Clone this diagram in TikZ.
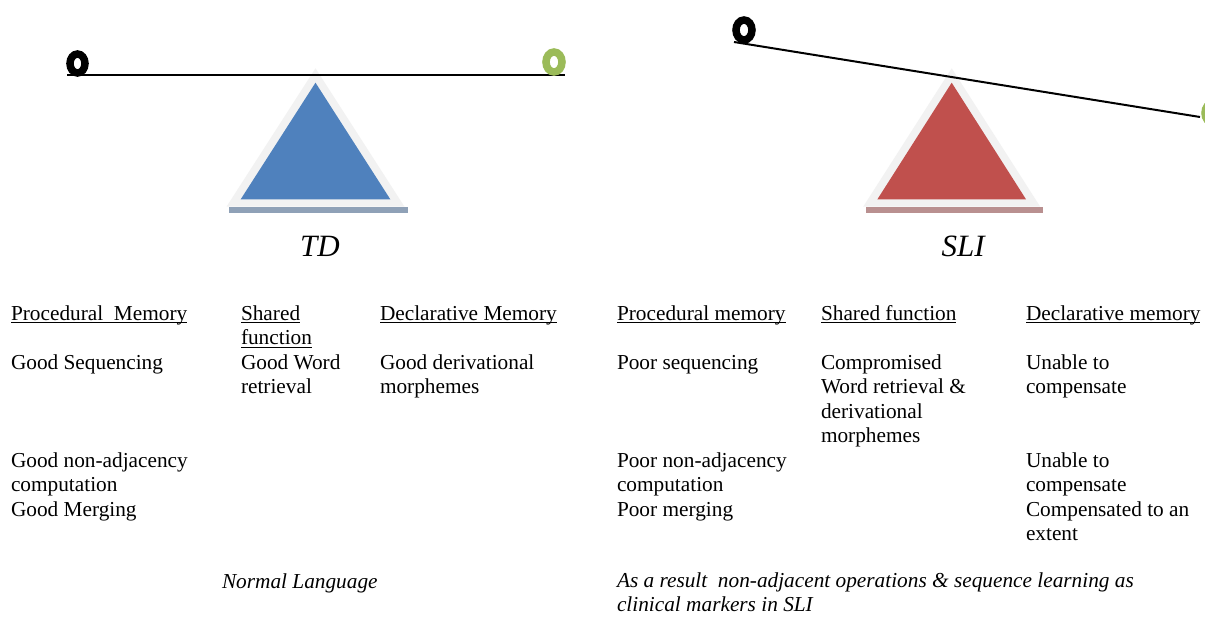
\documentclass[tikz,border=0pt]{standalone}
\usepackage{fontspec}
\setmainfont{Liberation Serif}
\usetikzlibrary{shapes.geometric}
\definecolor{tdblue}{HTML}{4F81BD}
\definecolor{slired}{HTML}{C0504D}
\definecolor{rimgray}{HTML}{F2F2F2}
\definecolor{tdshadow}{HTML}{8FA1B7}
\definecolor{slishadow}{HTML}{B99090}
\definecolor{ringgreen}{HTML}{9BBB59}
\newcommand\ulin[1]{\setbox0\hbox{#1}\rlap{\rule[-3.4pt]{\wd0}{1.1pt}}\box0}
\begin{document}
\begin{tikzpicture}[x=1pt,y=-1pt,
  txt/.style={anchor=base west, inner sep=0pt, outer sep=0pt, align=left,
    font=\fontsize{21.3}{24.5}\selectfont},
  itxt/.style={txt, font=\fontsize{21.3}{24.5}\selectfont\itshape},
  ttl/.style={anchor=base west, inner sep=0pt, font=\fontsize{31}{36}\selectfont\itshape},
  beam/.style={line width=2pt, black},
  ring/.style={ellipse, draw, line width=7.5pt, inner sep=0pt},
  rim/.style={fill=rimgray},
  ]
\clip (0,0) rectangle (1205,616);
\fill[white] (0,0) rectangle (1205,616);

% ---------- TD seesaw ----------
\fill[rim] (315.5,68.3) -- (404.5,206.7) -- (226.5,206.7) -- cycle;
\fill[tdshadow] (229,206.7) rectangle (407.5,212.7);
\fill[tdblue] (315.5,82.7) -- (390.3,199.3) -- (240.7,199.3) -- cycle;
\coordinate (tdL) at (67,74.5);
\coordinate (tdR) at (565,74.5);
\draw[beam] (tdL) -- (tdR);
\node[ring, black, minimum width=15pt, minimum height=19pt] (tdblack) at (77.5,63.5) {};
\node[ring, ringgreen, minimum width=16pt, minimum height=20pt] (tdgreen) at (554,62) {};

% ---------- SLI seesaw ----------
\fill[rim] (951.7,68.3) -- (1040.2,206.7) -- (863.2,206.7) -- cycle;
\fill[slishadow] (865.7,206.7) rectangle (1043.3,212.7);
\fill[slired] (951.7,82.7) -- (1026,199.3) -- (877.4,199.3) -- cycle;
\coordinate (sliL) at (734,42);
\coordinate (sliR) at (1200,117);
\draw[beam] (sliL) -- (sliR);
\node[ring, black, minimum width=16pt, minimum height=20pt] (sliblack) at (744,30) {};
\node[ring, ringgreen, minimum width=16pt, minimum height=20pt] (sligreen) at (1213,113) {};

% ---------- titles ----------
\node[ttl] (td) at (300,256.5) {TD};
\node[ttl] (sli) at (941.5,256.5) {SLI};

% ---------- TD table (anchor = baseline of last line) ----------
\node[txt] (tdproc) at (11,320) {\ulin{Procedural\ \ Memory}};
\node[txt] (tdshared) at (241,344.5) {\ulin{Shared}\\\ulin{function}};
\node[txt] (tddecl) at (380,320) {\ulin{Declarative Memory}};
\node[txt] (tdseq) at (11,369) {Good Sequencing};
\node[txt] (tdword) at (241,393.5) {Good Word\\retrieval};
\node[txt] (tdderiv) at (380,393.5) {Good derivational\\morphemes};
\node[txt] (tdnonadj) at (11,491.5) {Good non-adjacency\\computation};
\node[txt] (tdmerge) at (11,516) {Good Merging};
\node[itxt] (tdnote) at (222,588) {Normal Language};

% ---------- SLI table ----------
\node[txt] (sliproc) at (617,320) {\ulin{Procedural memory}};
\node[txt] (slishared) at (821,320) {\ulin{Shared function}};
\node[txt] (slidecl) at (1026,320) {\ulin{Declarative memory}};
\node[txt] (sliseq) at (617,369) {Poor sequencing};
\node[txt] (sliword) at (821,442.5) {Compromised\\Word retrieval \&\\derivational\\morphemes};
\node[txt] (slicomp1) at (1026,393.5) {Unable to\\compensate};
\node[txt] (slinonadj) at (617,491.5) {Poor non-adjacency\\computation};
\node[txt] (slicomp2) at (1026,491.5) {Unable to\\compensate};
\node[txt] (slimerge) at (617,516) {Poor merging};
\node[txt] (slicomp3) at (1026,540.5) {Compensated to an\\extent};
\node[itxt] (slinote) at (617,611.5) {As a result\ \ non-adjacent operations \& sequence learning as\\clinical markers in SLI};
\end{tikzpicture}
\end{document}
